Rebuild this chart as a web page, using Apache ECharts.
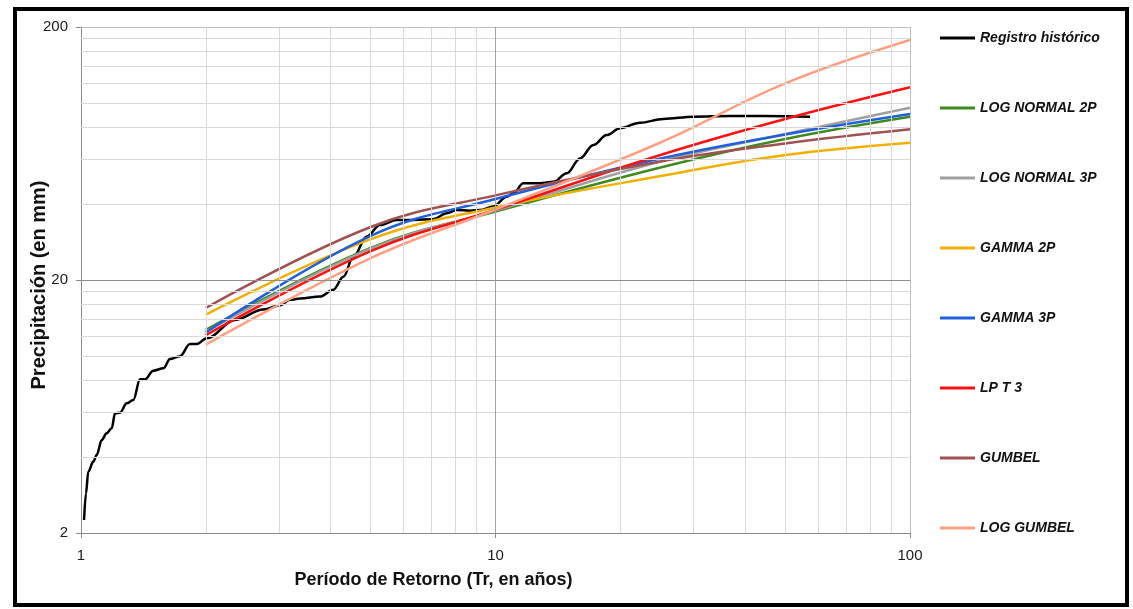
<!DOCTYPE html>
<html>
<head>
<meta charset="utf-8">
<script src="https://cdn.jsdelivr.net/npm/echarts@6/dist/echarts.min.js"></script>
<style>
  html, body { margin: 0; padding: 0; background: #ffffff; }
  #chart { width: 1133px; height: 609px; }
</style>
</head>
<body>
<div id="chart"></div>
<script>
// Return periods (years) at which each fitted distribution is evaluated
const returnPeriods = [2, 5, 10, 25, 50, 100];

// Fitted precipitation (mm) per distribution
const logNormal2P = [12.7, 26.8, 37.3, 55.7, 72.2, 88.4];
const logNormal3P = [12.5, 26.6, 37.6, 58.8, 75.5, 95.9];
const gamma2P     = [14.6, 29.0, 38.7, 51.5, 62.4, 69.8];
const gamma3P     = [12.4, 29.9, 41.8, 60.4, 75.2, 90.6];
const lpt3        = [12.1, 26.0, 37.9, 62.4, 86.6, 115.5];
const gumbel      = [15.5, 32.4, 43.2, 58.8, 69.3, 78.8];
const logGumbel   = [11.1, 24.4, 38.0, 69.9, 119.8, 177.7];

// Historical record: return period (years) and precipitation (mm)
const historicTr = [1.017, 1.028, 1.041, 1.071, 1.091, 1.122, 1.153, 1.186, 1.208, 1.242,
  1.289, 1.337, 1.388, 1.427, 1.494, 1.580, 1.640, 1.733, 1.832, 1.901,
  2.011, 2.353, 2.754, 3.021, 3.193, 3.376, 3.772, 4.062, 4.295, 4.539,
  4.890, 5.265, 5.776, 6.334, 7.079, 7.627, 8.062, 8.682, 9.175, 9.878,
  10.64, 11.04, 11.67, 12.81, 13.79, 14.86, 15.99, 17.22, 18.55, 19.97,
  22.32, 25.40, 30.01, 36.8, 44.3, 57.4];
const historicMm = [2.25, 2.87, 3.49, 3.83, 4.07, 4.66, 4.96, 5.19, 5.95, 5.98,
  6.51, 6.71, 8.10, 8.10, 8.76, 8.95, 9.74, 10.0, 11.17, 11.17,
  11.77, 13.9, 15.3, 15.9, 16.7, 16.9, 17.2, 18.3, 20.6, 24.7,
  29.7, 33.0, 34.5, 34.5, 34.8, 36.7, 37.8, 37.6, 37.8, 39.0,
  42.7, 44.0, 48.2, 48.2, 48.9, 52.8, 60.5, 68.3, 74.8, 79.6,
  83.7, 86.6, 88.4, 89.0, 89.0, 88.4];

// Axis labels and grid positions
const xLabelValues = [1, 10, 100];
const yLabelValues = [2, 20, 200];
const xMinorGrid = [2, 3, 4, 5, 6, 7, 8, 9, 20, 30, 40, 50, 60, 70, 80, 90];
const yMinorGrid = [4, 6, 8, 10, 12, 14, 16, 18, 40, 60, 80, 100, 120, 140, 160, 180];

const FONT = 'Liberation Sans, Arial, sans-serif';

const fitted = [
  { name: 'LOG NORMAL 2P', values: logNormal2P, color: '#3f8a1e' },
  { name: 'LOG NORMAL 3P', values: logNormal3P, color: '#a0a0a0' },
  { name: 'GAMMA 2P',      values: gamma2P,     color: '#f0b000' },
  { name: 'GAMMA 3P',      values: gamma3P,     color: '#2060dc' },
  { name: 'LP T 3',        values: lpt3,        color: '#ff1010' },
  { name: 'GUMBEL',        values: gumbel,      color: '#a05252' },
  { name: 'LOG GUMBEL',    values: logGumbel,   color: '#ffa084' }
];

const gridLines = [];
xMinorGrid.forEach(v => gridLines.push({ xAxis: v }));
yMinorGrid.forEach(v => gridLines.push({ yAxis: v }));
gridLines.push({ xAxis: 100, lineStyle: { color: '#bfbfbf' } });
gridLines.push({ yAxis: 200, lineStyle: { color: '#bfbfbf' } });
gridLines.push({ xAxis: 10, lineStyle: { color: '#a3a3a3' } });
gridLines.push({ yAxis: 20, lineStyle: { color: '#8f8f8f' } });

const series = [
  {
    name: 'gridlines',
    type: 'line',
    data: [],
    silent: true,
    z: 1,
    markLine: {
      silent: true,
      animation: false,
      symbol: ['none', 'none'],
      label: { show: false },
      emphasis: { disabled: true },
      lineStyle: { color: '#d9d9d9', width: 1, type: 'solid' },
      data: gridLines
    }
  },
  {
    name: 'Registro histórico',
    type: 'line',
    data: historicTr.map((t, i) => [t, historicMm[i]]),
    symbol: 'none',
    smooth: 0.35,
    smoothMonotone: 'x',
    lineStyle: { color: '#000000', width: 2.5 },
    itemStyle: { color: '#000000' },
    z: 3
  }
];

fitted.forEach(f => {
  series.push({
    name: f.name,
    type: 'line',
    data: returnPeriods.map((t, i) => [t, f.values[i]]),
    symbol: 'none',
    smooth: 0.4,
    lineStyle: { color: f.color, width: 2.5 },
    itemStyle: { color: f.color },
    z: 3
  });
});

const legendNames = ['Registro histórico'].concat(fitted.map(f => f.name));

const chart = echarts.init(document.getElementById('chart'), null, { renderer: 'canvas' });

chart.setOption({
  animation: false,
  backgroundColor: '#ffffff',
  textStyle: { fontFamily: FONT },
  grid: { left: 81, right: 223, top: 27, bottom: 76, containLabel: false },
  graphic: [{
    type: 'rect',
    silent: true,
    z: 100,
    shape: { x: 15, y: 9, width: 1112, height: 596 },
    style: { fill: 'none', stroke: '#000000', lineWidth: 4 }
  }],
  legend: {
    orient: 'vertical',
    left: 935,
    top: 26,
    padding: [5, 5, 5, 5],
    icon: 'rect',
    itemWidth: 35,
    itemHeight: 3,
    itemGap: 56,
    data: legendNames,
    textStyle: { fontFamily: FONT, fontSize: 14, fontWeight: 'bold', fontStyle: 'italic', color: '#111111' }
  },
  xAxis: {
    type: 'log',
    logBase: 10,
    min: 1,
    max: 100,
    name: 'Período de Retorno (Tr, en años)',
    nameLocation: 'middle',
    nameGap: 38,
    nameMoveOverlap: false,
    nameTextStyle: { fontFamily: FONT, fontSize: 18, fontWeight: 'bold', color: '#111111', padding: [0, 124, 0, 0] },
    axisLine: { show: true, lineStyle: { color: '#8a8a8a', width: 1 } },
    axisTick: { show: true, length: 5, lineStyle: { color: '#8a8a8a' }, customValues: xLabelValues },
    axisLabel: { fontFamily: FONT, fontSize: 15, color: '#1a1a1a', margin: 15, customValues: xLabelValues },
    splitLine: { show: false }
  },
  yAxis: {
    type: 'log',
    logBase: 10,
    min: 2,
    max: 200,
    name: 'Precipitación (en mm)',
    nameLocation: 'middle',
    nameGap: 32,
    nameMoveOverlap: false,
    nameTextStyle: { fontFamily: FONT, fontSize: 20, fontWeight: 'bold', color: '#111111', padding: [0, 10, 0, 0] },
    axisLine: { show: true, lineStyle: { color: '#8a8a8a', width: 1 } },
    axisTick: { show: true, length: 5, lineStyle: { color: '#8a8a8a' }, customValues: yLabelValues },
    axisLabel: { fontFamily: FONT, fontSize: 15, color: '#1a1a1a', margin: 13, customValues: yLabelValues },
    splitLine: { show: false }
  },
  series: series
});
</script>
</body>
</html>
